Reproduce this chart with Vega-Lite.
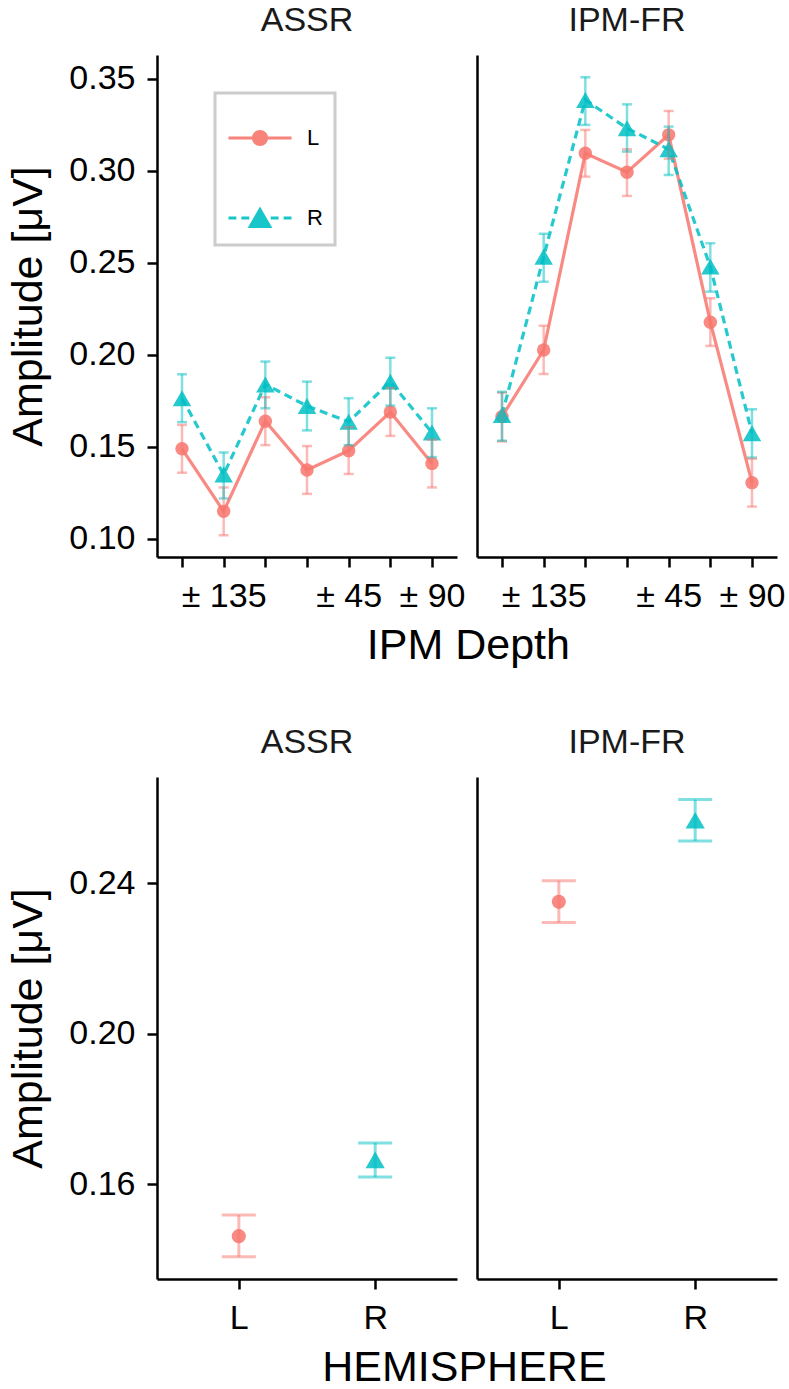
{
  "$schema": "https://vega.github.io/schema/vega-lite/v6.json",
  "padding": {"left": 7, "top": 4, "right": 4, "bottom": 4},
  "background": "white",
  "datasets": {
    "depth": [
      {"stim": "ASSR", "idx": 1, "hemi": "L", "amp": 0.149, "lo": 0.136, "hi": 0.162},
      {"stim": "ASSR", "idx": 2, "hemi": "L", "amp": 0.115, "lo": 0.102, "hi": 0.128},
      {"stim": "ASSR", "idx": 3, "hemi": "L", "amp": 0.164, "lo": 0.151, "hi": 0.177},
      {"stim": "ASSR", "idx": 4, "hemi": "L", "amp": 0.1375, "lo": 0.1245, "hi": 0.1505},
      {"stim": "ASSR", "idx": 5, "hemi": "L", "amp": 0.148, "lo": 0.1353, "hi": 0.1607},
      {"stim": "ASSR", "idx": 6, "hemi": "L", "amp": 0.169, "lo": 0.156, "hi": 0.182},
      {"stim": "ASSR", "idx": 7, "hemi": "L", "amp": 0.141, "lo": 0.128, "hi": 0.154},
      {"stim": "ASSR", "idx": 1, "hemi": "R", "amp": 0.1765, "lo": 0.1635, "hi": 0.1895},
      {"stim": "ASSR", "idx": 2, "hemi": "R", "amp": 0.135, "lo": 0.122, "hi": 0.147},
      {"stim": "ASSR", "idx": 3, "hemi": "R", "amp": 0.184, "lo": 0.171, "hi": 0.1964},
      {"stim": "ASSR", "idx": 4, "hemi": "R", "amp": 0.1723, "lo": 0.159, "hi": 0.1855},
      {"stim": "ASSR", "idx": 5, "hemi": "R", "amp": 0.1637, "lo": 0.151, "hi": 0.1765},
      {"stim": "ASSR", "idx": 6, "hemi": "R", "amp": 0.1855, "lo": 0.1725, "hi": 0.1985},
      {"stim": "ASSR", "idx": 7, "hemi": "R", "amp": 0.1578, "lo": 0.1445, "hi": 0.171},
      {"stim": "IPM-FR", "idx": 1, "hemi": "L", "amp": 0.1665, "lo": 0.153, "hi": 0.1795},
      {"stim": "IPM-FR", "idx": 2, "hemi": "L", "amp": 0.2027, "lo": 0.1897, "hi": 0.2158},
      {"stim": "IPM-FR", "idx": 3, "hemi": "L", "amp": 0.3096, "lo": 0.2969, "hi": 0.3223},
      {"stim": "IPM-FR", "idx": 4, "hemi": "L", "amp": 0.2993, "lo": 0.2864, "hi": 0.3118},
      {"stim": "IPM-FR", "idx": 5, "hemi": "L", "amp": 0.3196, "lo": 0.3066, "hi": 0.3326},
      {"stim": "IPM-FR", "idx": 6, "hemi": "L", "amp": 0.2178, "lo": 0.2049, "hi": 0.2308},
      {"stim": "IPM-FR", "idx": 7, "hemi": "L", "amp": 0.1306, "lo": 0.1176, "hi": 0.1436},
      {"stim": "IPM-FR", "idx": 1, "hemi": "R", "amp": 0.1674, "lo": 0.1534, "hi": 0.18},
      {"stim": "IPM-FR", "idx": 2, "hemi": "R", "amp": 0.2534, "lo": 0.2398, "hi": 0.2658},
      {"stim": "IPM-FR", "idx": 3, "hemi": "R", "amp": 0.3386, "lo": 0.325, "hi": 0.3509},
      {"stim": "IPM-FR", "idx": 4, "hemi": "R", "amp": 0.3232, "lo": 0.3105, "hi": 0.3362},
      {"stim": "IPM-FR", "idx": 5, "hemi": "R", "amp": 0.3118, "lo": 0.2978, "hi": 0.3241},
      {"stim": "IPM-FR", "idx": 6, "hemi": "R", "amp": 0.248, "lo": 0.2344, "hi": 0.2607},
      {"stim": "IPM-FR", "idx": 7, "hemi": "R", "amp": 0.1574, "lo": 0.1442, "hi": 0.1705}
    ],
    "hemi": [
      {"stim": "ASSR", "hemi": "L", "amp": 0.1462, "lo": 0.1407, "hi": 0.1518},
      {"stim": "ASSR", "hemi": "R", "amp": 0.1665, "lo": 0.1619, "hi": 0.171},
      {"stim": "IPM-FR", "hemi": "L", "amp": 0.2351, "lo": 0.2296, "hi": 0.2407},
      {"stim": "IPM-FR", "hemi": "R", "amp": 0.2568, "lo": 0.2513, "hi": 0.2623}
    ]
  },
  "resolve": {"legend": {"color": "independent", "stroke": "independent"}},
  "spacing": 58,
  "vconcat": [
    {
      "title": {"text": "IPM Depth", "orient": "bottom", "anchor": "middle", "fontSize": 43, "color": "#000", "offset": 12, "dx": 72},
      "spacing": 12,
      "resolve": {"legend": {"color": "independent", "stroke": "independent"}},
      "hconcat": [
        {
          "width": 300, "height": 502,
          "title": "ASSR",
          "data": {"name": "depth"},
          "transform": [{"filter": "datum.stim === 'ASSR'"}],
          "encoding": {
            "x": {"field": "idx", "type": "ordinal", "scale": {"type": "point", "padding": 0.6},
                  "axis": {"title": null, "labelAngle": 0, "labelOverlap": false, "labelExpr": "datum.value == 2 ? '± 135' : datum.value == 5 ? '± 45' : datum.value == 7 ? '± 90' : ''"}},
            "y": {"field": "amp", "type": "quantitative", "scale": {"domain": [0.0902, 0.363], "nice": false, "zero": false},
                  "axis": {"title": "Amplitude [μV]", "values": [0.1, 0.15, 0.2, 0.25, 0.3, 0.35], "format": ".2f", "titlePadding": 18}}
          },
          "layer": [
            {
              "transform": [{"filter": "datum.hemi === 'L'"}],
              "mark": {"type": "line", "strokeWidth": 3.2, "opacity": 0.85},
              "encoding": {
                "stroke": {"field": "hemi", "type": "nominal", "scale": {"domain": ["L", "R"], "range": ["#F8766D", "#00BFC4"]},
                  "legend": {
                    "orient": "none", "legendX": 58, "legendY": 38, "title": null,
                    "symbolSize": 3969,
                    "symbolType": {"expr": "datum.value === 'L' ? 'M-1,0L1,0M0.21,0A0.21,0.21,0,1,1,-0.21,0A0.21,0.21,0,1,1,0.21,0Z' : 'M-1,0L-0.75,0M-0.59,0L-0.34,0M0.34,0L0.59,0M0.75,0L1,0M0,-0.27L0.31,0.27L-0.31,0.27Z'"},
                    "symbolFillColor": {"expr": "datum.value === 'L' ? '#F8766D' : '#00BFC4'"},
                    "symbolStrokeWidth": 3, "symbolOpacity": 0.9,
                    "labelFontSize": 22, "labelColor": "#000", "labelOffset": 14,
                    "rowPadding": 34, "padding": 12, "strokeColor": "#cccccc"
                  }}
              }
            },
            {
              "transform": [{"filter": "datum.hemi === 'R'"}],
              "mark": {"type": "line", "strokeWidth": 3.2, "opacity": 0.85, "strokeDash": [8, 5]},
              "encoding": {"color": {"field": "hemi", "type": "nominal", "scale": {"range": ["#F8766D", "#00BFC4"]}, "legend": null}}
            },
            {
              "transform": [{"filter": "datum.hemi === 'L'"}],
              "mark": {"type": "point", "filled": true, "opacity": 0.85, "shape": "circle", "size": 180},
              "encoding": {"color": {"field": "hemi", "type": "nominal", "scale": {"range": ["#F8766D", "#00BFC4"]}, "legend": null}}
            },
            {
              "transform": [{"filter": "datum.hemi === 'R'"}],
              "mark": {"type": "point", "filled": true, "opacity": 0.85, "shape": "triangle-up", "size": 340},
              "encoding": {"color": {"field": "hemi", "type": "nominal", "scale": {"range": ["#F8766D", "#00BFC4"]}, "legend": null}}
            },
            {
              "mark": {"type": "errorbar", "ticks": true, "size": 10, "thickness": 2.5, "opacity": 0.5},
              "encoding": {
                "y": {"field": "lo", "type": "quantitative", "scale": {"domain": [0.0902, 0.363], "nice": false, "zero": false},
                      "axis": {"title": "Amplitude [μV]", "values": [0.1, 0.15, 0.2, 0.25, 0.3, 0.35], "format": ".2f", "titlePadding": 18}},
                "y2": {"field": "hi"},
                "color": {"field": "hemi", "type": "nominal", "scale": {"range": ["#F8766D", "#00BFC4"]}, "legend": null}
              }
            }
          ]
        },
        {
          "width": 300, "height": 502,
          "title": "IPM-FR",
          "data": {"name": "depth"},
          "transform": [{"filter": "datum.stim === 'IPM-FR'"}],
          "encoding": {
            "x": {"field": "idx", "type": "ordinal", "scale": {"type": "point", "padding": 0.6},
                  "axis": {"title": null, "labelAngle": 0, "labelOverlap": false, "labelExpr": "datum.value == 2 ? '± 135' : datum.value == 5 ? '± 45' : datum.value == 7 ? '± 90' : ''"}},
            "y": {"field": "amp", "type": "quantitative", "scale": {"domain": [0.0902, 0.363], "nice": false, "zero": false},
                  "axis": {"title": null, "labels": false, "ticks": false}},
            "color": {"field": "hemi", "type": "nominal", "scale": {"range": ["#F8766D", "#00BFC4"]}, "legend": null}
          },
          "layer": [
            {
              "transform": [{"filter": "datum.hemi === 'L'"}],
              "mark": {"type": "line", "strokeWidth": 3.2, "opacity": 0.85}
            },
            {
              "transform": [{"filter": "datum.hemi === 'R'"}],
              "mark": {"type": "line", "strokeWidth": 3.2, "opacity": 0.85, "strokeDash": [8, 5]}
            },
            {
              "transform": [{"filter": "datum.hemi === 'L'"}],
              "mark": {"type": "point", "filled": true, "opacity": 0.85, "shape": "circle", "size": 180}
            },
            {
              "transform": [{"filter": "datum.hemi === 'R'"}],
              "mark": {"type": "point", "filled": true, "opacity": 0.85, "shape": "triangle-up", "size": 340}
            },
            {
              "mark": {"type": "errorbar", "ticks": true, "size": 10, "thickness": 2.5, "opacity": 0.5},
              "encoding": {
                "y": {"field": "lo", "type": "quantitative", "scale": {"domain": [0.0902, 0.363], "nice": false, "zero": false},
                      "axis": {"title": null, "labels": false, "ticks": false}},
                "y2": {"field": "hi"}
              }
            }
          ]
        }
      ]
    },
    {
      "title": {"text": "HEMISPHERE", "orient": "bottom", "anchor": "middle", "fontSize": 43, "color": "#000", "offset": 12, "dx": 72},
      "spacing": 20,
      "resolve": {"legend": {"color": "independent", "stroke": "independent"}},
      "hconcat": [
        {
          "width": 300, "height": 502,
          "title": "ASSR",
          "data": {"name": "hemi"},
          "transform": [{"filter": "datum.stim === 'ASSR'"}],
          "encoding": {
            "x": {"field": "hemi", "type": "nominal", "scale": {"type": "point", "padding": 0.6, "domain": ["L", "R"]}, "axis": {"title": null, "labelAngle": 0}},
            "y": {"field": "amp", "type": "quantitative", "scale": {"domain": [0.1348, 0.2683], "nice": false, "zero": false},
                  "axis": {"title": "Amplitude [μV]", "values": [0.16, 0.2, 0.24], "format": ".2f", "titlePadding": 18}},
            "color": {"field": "hemi", "type": "nominal", "scale": {"range": ["#F8766D", "#00BFC4"]}, "legend": null}
          },
          "layer": [
            {
              "transform": [{"filter": "datum.hemi === 'L'"}],
              "mark": {"type": "point", "filled": true, "opacity": 0.85, "shape": "circle", "size": 200}
            },
            {
              "transform": [{"filter": "datum.hemi === 'R'"}],
              "mark": {"type": "point", "filled": true, "opacity": 0.85, "shape": "triangle-up", "size": 370}
            },
            {
              "mark": {"type": "errorbar", "ticks": true, "size": 34, "thickness": 3, "opacity": 0.5},
              "encoding": {
                "y": {"field": "lo", "type": "quantitative", "scale": {"domain": [0.1348, 0.2683], "nice": false, "zero": false},
                      "axis": {"title": "Amplitude [μV]", "values": [0.16, 0.2, 0.24], "format": ".2f", "titlePadding": 18}},
                "y2": {"field": "hi"}
              }
            }
          ]
        },
        {
          "width": 300, "height": 502,
          "title": "IPM-FR",
          "data": {"name": "hemi"},
          "transform": [{"filter": "datum.stim === 'IPM-FR'"}],
          "encoding": {
            "x": {"field": "hemi", "type": "nominal", "scale": {"type": "point", "padding": 0.6, "domain": ["L", "R"]}, "axis": {"title": null, "labelAngle": 0}},
            "y": {"field": "amp", "type": "quantitative", "scale": {"domain": [0.1348, 0.2683], "nice": false, "zero": false},
                  "axis": {"title": null, "labels": false, "ticks": false}},
            "color": {"field": "hemi", "type": "nominal", "scale": {"range": ["#F8766D", "#00BFC4"]}, "legend": null}
          },
          "layer": [
            {
              "transform": [{"filter": "datum.hemi === 'L'"}],
              "mark": {"type": "point", "filled": true, "opacity": 0.85, "shape": "circle", "size": 200}
            },
            {
              "transform": [{"filter": "datum.hemi === 'R'"}],
              "mark": {"type": "point", "filled": true, "opacity": 0.85, "shape": "triangle-up", "size": 370}
            },
            {
              "mark": {"type": "errorbar", "ticks": true, "size": 34, "thickness": 3, "opacity": 0.5},
              "encoding": {
                "y": {"field": "lo", "type": "quantitative", "scale": {"domain": [0.1348, 0.2683], "nice": false, "zero": false},
                      "axis": {"title": null, "labels": false, "ticks": false}},
                "y2": {"field": "hi"}
              }
            }
          ]
        }
      ]
    }
  ],
  "config": {
    "font": "Liberation Sans",
    "view": {"stroke": null},
    "axis": {
      "grid": false, "domainColor": "#000", "domainWidth": 2.5, "tickColor": "#000", "tickWidth": 2.5, "tickSize": 10,
      "labelFont": "Liberation Sans", "labelFontSize": 34, "labelColor": "#000", "labelPadding": 12,
      "titleFont": "Liberation Sans", "titleFontSize": 43, "titleFontWeight": "normal", "titleColor": "#000"
    },
    "legend": {"labelFont": "Liberation Sans", "labelFontSize": 22, "strokeWidth": 3},
    "title": {"font": "Liberation Sans", "fontSize": 34, "fontWeight": "normal", "color": "#1a1a1a", "offset": 17}
  }
}
